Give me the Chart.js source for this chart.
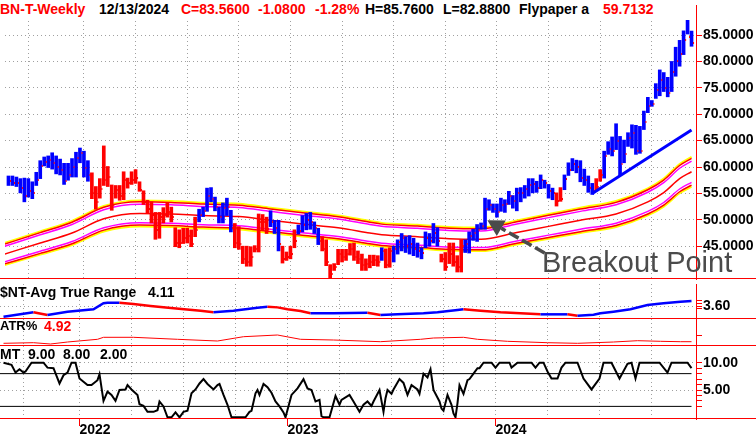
<!DOCTYPE html>
<html>
<head>
<meta charset="utf-8">
<script src="https://cdn.jsdelivr.net/npm/chart.js@4.4.1/dist/chart.umd.min.js"></script>
<style>
  body { margin: 0; background: #fff; width: 756px; height: 439px; overflow: hidden; position: relative;
         font-family: "Liberation Sans", Arial, Helvetica, sans-serif; }
  .pane { position: absolute; left: 0; width: 756px; }
  .t { position: absolute; font-weight: bold; font-size: 14px; line-height: 16px; white-space: nowrap; color: #000; }
  .red { color: #f00; }
</style>
</head>
<body>
<div class="pane" style="top:0;height:284px"><canvas id="cPrice"></canvas></div>
<div class="pane" style="top:284px;height:35px"><canvas id="cAtr"></canvas></div>
<div class="pane" style="top:319px;height:27px"><canvas id="cAtrPct"></canvas></div>
<div class="pane" style="top:346px;height:93px"><canvas id="cMt"></canvas></div>

<div style="position:absolute;left:0;top:0;width:662px;height:19px;background:#fff"></div>
<div class="t red" style="left:0;top:1px">BN-T-Weekly</div>
<div class="t" style="left:99px;top:1px">12/13/2024</div>
<div class="t red" style="left:181px;top:1px">C=83.5600</div>
<div class="t red" style="left:258px;top:1px">-1.0800</div>
<div class="t red" style="left:315px;top:1px">-1.28%</div>
<div class="t" style="left:365px;top:1px">H=85.7600</div>
<div class="t" style="left:443px;top:1px">L=82.8800</div>
<div class="t" style="left:519px;top:1px">Flypaper a</div>
<div class="t red" style="left:603px;top:1px">59.7132</div>

<div class="t" style="left:0;top:284px">$NT-Avg True Range</div>
<div class="t" style="left:148px;top:284px">4.11</div>
<div class="t" style="left:0;top:318px;font-size:13px">ATR%</div>
<div class="t red" style="left:44px;top:318px">4.92</div>
<div class="t" style="left:0;top:346px">MT</div>
<div class="t" style="left:28px;top:346px">9.00</div>
<div class="t" style="left:63px;top:346px">8.00</div>
<div class="t" style="left:100px;top:346px">2.00</div>

<div style="position:absolute;left:542px;top:246px;font-size:29px;line-height:33px;color:#4b4b4b;white-space:nowrap">Breakout Point</div>

<script>
// weekly bars, index 0 = first bar on the left, index 172 = 12/13/2024
var highs = [
  58.3, 58.3, 58.1, 57.8, 57.9, 57.8, 57.2, 59.0, 61.2, 61.9,
  62.1, 62.7, 62.1, 61.5, 60.7, 60.7, 61.6, 62.8, 63.6, 63.0,
  61.2, 58.9, 56.3, 57.8, 64.0, 60.1, 56.6, 56.5, 56.5, 59.1,
  57.9, 59.1, 59.5, 57.2, 55.5, 53.7, 53.4, 51.4, 51.4, 52.3,
  53.2, 52.4, 48.5, 48.1, 48.4, 48.4, 48.1, 50.5, 52.0, 52.4,
  56.0, 56.1, 54.3, 52.4, 53.2, 54.1, 51.8, 49.3, 48.7, 45.0,
  45.0, 44.9, 45.1, 51.1, 51.0, 50.5, 51.7, 49.9, 49.9, 45.0,
  43.9, 45.0, 48.1, 49.0, 50.8, 51.2, 51.4, 49.6, 48.4, 46.8,
  46.2, 41.5, 41.7, 44.4, 44.4, 44.4, 45.5, 45.6, 44.1, 43.5,
  42.6, 43.3, 43.3, 43.2, 44.7, 44.5, 44.7, 45.0, 46.2, 47.4,
  46.8, 47.0, 46.5, 45.6, 44.7, 47.7, 47.4, 49.3, 48.5, 43.5,
  43.8, 45.6, 45.6, 43.2, 46.2, 46.2, 47.7, 48.2, 49.1, 49.4,
  54.1, 53.8, 53.0, 53.0, 54.1, 53.8, 55.4, 54.6, 56.0, 56.1,
  56.5, 57.8, 57.8, 57.3, 58.5, 57.5, 56.7, 56.0, 55.1, 56.1,
  58.5, 60.8, 61.6, 61.3, 61.2, 59.6, 58.3, 56.9, 57.8, 59.5,
  63.0, 64.8, 65.7, 68.2, 65.8, 65.1, 66.5, 68.0, 67.9, 67.7,
  70.6, 73.2, 72.6, 75.8, 78.4, 77.9, 77.0, 80.0, 82.7, 84.0,
  85.8, 87.8, 85.76
];
var lows = [
  56.5, 56.5, 56.3, 55.1, 53.4, 54.3, 54.0, 56.5, 57.8, 60.2,
  59.9, 59.6, 58.7, 58.5, 56.7, 57.5, 58.1, 58.1, 60.8, 58.1,
  57.3, 54.0, 52.0, 54.1, 56.5, 56.3, 51.8, 54.1, 53.7, 53.8,
  56.0, 56.7, 56.9, 55.4, 52.9, 51.2, 49.4, 46.3, 46.5, 49.4,
  50.5, 49.6, 44.9, 44.7, 45.5, 45.6, 44.9, 46.8, 49.6, 50.6,
  51.6, 53.4, 51.7, 49.4, 49.4, 50.8, 47.7, 44.7, 44.4, 41.7,
  41.2, 41.2, 43.9, 43.9, 48.1, 47.4, 48.7, 47.4, 44.1, 41.8,
  42.3, 42.6, 44.7, 47.3, 47.7, 48.1, 48.2, 47.4, 45.3, 44.1,
  41.3, 39.0, 40.4, 41.5, 42.0, 42.3, 43.3, 42.3, 41.7, 40.4,
  40.4, 40.9, 41.3, 41.2, 42.3, 40.9, 41.0, 42.0, 43.5, 44.1,
  43.8, 43.5, 43.2, 42.9, 42.6, 44.7, 45.0, 45.6, 45.0, 42.0,
  40.4, 41.7, 41.2, 40.1, 40.1, 43.8, 43.7, 46.1, 45.9, 48.2,
  48.2, 51.8, 51.4, 50.5, 51.6, 51.4, 52.9, 52.2, 51.7, 53.4,
  54.1, 54.5, 55.1, 55.2, 55.9, 56.0, 54.1, 53.8, 52.6, 53.5,
  55.7, 58.4, 59.3, 58.9, 57.2, 56.5, 55.2, 54.8, 55.5, 57.3,
  57.9, 62.4, 62.1, 63.3, 58.4, 60.8, 63.9, 63.6, 62.4, 62.6,
  67.1, 70.3, 71.5, 73.0, 73.5, 74.3, 73.3, 74.3, 77.2, 79.1,
  81.3, 85.2, 82.88
];
var closes = [
  57.3, 57.0, 56.9, 56.0, 54.5, 55.5, 55.0, 57.5, 60.2, 61.0,
  61.4, 60.8, 60.0, 59.4, 57.4, 58.5, 60.0, 61.8, 62.6, 59.8,
  58.4, 55.0, 53.4, 55.8, 57.5, 58.2, 52.8, 55.6, 54.5, 57.5,
  57.0, 57.6, 58.0, 55.6, 53.3, 52.0, 51.0, 48.0, 50.5, 51.0,
  51.5, 50.5, 45.6, 45.6, 46.5, 47.0, 45.5, 48.0, 51.0, 51.6,
  54.5, 54.0, 52.5, 50.5, 52.2, 52.5, 48.5, 45.6, 45.5, 42.5,
  42.0, 43.0, 44.5, 49.5, 49.5, 48.3, 49.5, 48.5, 45.5, 42.5,
  43.0, 43.5, 46.0, 47.9, 49.0, 50.0, 49.5, 48.5, 46.0, 44.5,
  42.0, 39.8, 41.0, 43.5, 43.0, 43.5, 44.5, 43.0, 42.5, 41.5,
  41.6, 42.0, 42.3, 42.0, 44.0, 41.5, 44.0, 44.5, 45.8, 46.5,
  45.0, 45.5, 44.5, 44.0, 43.8, 46.5, 46.0, 47.5, 46.0, 42.5,
  41.0, 43.5, 42.0, 41.0, 45.0, 45.5, 47.0, 47.5, 48.0, 48.8,
  52.0, 52.8, 52.0, 51.5, 52.8, 53.0, 54.5, 53.5, 55.0, 55.0,
  55.8, 56.5, 56.8, 56.0, 57.5, 57.0, 55.5, 55.0, 53.5, 54.0,
  57.8, 59.5, 60.5, 60.0, 58.0, 57.5, 56.0, 55.5, 56.2, 58.5,
  62.0, 63.5, 63.0, 65.0, 60.5, 62.5, 65.5, 66.5, 63.0, 63.0,
  68.5, 71.5, 72.0, 74.5, 76.5, 75.0, 74.0, 78.0, 80.0, 81.5,
  84.0, 84.64, 83.56
];
// 1 = blue (up) bar, 0 = red (down) bar
var upBar = [
  1, 1, 1, 1, 1, 1, 1, 1, 1, 1, 1, 1, 1, 1, 1, 1, 1, 1, 1, 1,
  1, 0, 0, 0, 0, 0, 0, 0, 0, 0, 0, 0, 0, 0, 0, 0, 0, 0, 0, 0,
  0, 0, 0, 0, 0, 0, 0, 0, 1, 1, 1, 1, 1, 1, 1, 1, 1, 0, 0, 0,
  0, 0, 0, 0, 0, 0, 1, 1, 1, 0, 0, 0, 0, 1, 1, 1, 1, 1, 1, 0,
  0, 0, 0, 0, 0, 0, 0, 0, 0, 0, 0, 0, 0, 0, 1, 0, 0, 1, 1, 1,
  1, 1, 1, 1, 1, 1, 1, 1, 1, 0, 0, 0, 0, 0, 0, 1, 1, 1, 1, 1,
  1, 1, 1, 1, 1, 1, 1, 1, 1, 1, 1, 1, 1, 1, 1, 1, 1, 1, 0, 0,
  1, 1, 1, 1, 1, 1, 1, 1, 0, 0, 1, 1, 1, 1, 1, 1, 1, 1, 1, 1,
  1, 1, 1, 1, 1, 1, 1, 1, 1, 1, 1, 1, 1
];

// moving-average envelope (centre line) and its band widths in percent
var bandIdx = [-1, 8, 16, 24, 33, 41, 49, 58, 66, 74, 83, 91, 94, 103, 111, 119, 128, 136, 144, 153, 161, 165, 169, 172];
var bandMid = [43.5, 45.6, 47.5, 50.2, 51.2, 51.1, 50.8, 50.6, 49.9, 49.2, 48.5, 47.5, 47.15, 46.8, 46.4, 46.3, 47.6, 48.75, 49.9, 51.1, 53.4, 55.15, 57.8, 59.1];
var bandPct = [4.8, 4.3, 3.4];
var bandColors = ['#ffff00', '#ff0000', '#ff00ff'];

// rising trend line
var trendIdx = [147, 172];
var trendVal = [55.0, 67.0];

// annotation arrow: from [index, price] to [index, price]
var arrowFrom = [135, 43.7];
var arrowTo = [120.6, 49.9];

// $NT-Avg True Range
var atrIdx = [0, 7.5, 11, 16, 22.5, 25, 26, 29, 32.5, 36.75, 42.5, 49.25, 52.5, 57.5, 63.5, 66, 68.5, 71, 74.25, 76.75, 82.5, 91, 94.25, 98.5, 105, 108.5, 113.5, 115, 119.25, 124.25, 129.25, 134.25, 141, 143.5, 147.5, 149.25, 152.5, 156.75, 161, 165, 169.25, 172];
var atrVal = [2.51, 2.96, 2.68, 3.02, 3.26, 3.88, 3.94, 3.94, 3.80, 3.60, 3.36, 3.12, 2.96, 3.12, 3.43, 3.53, 3.46, 3.26, 3.09, 2.86, 2.86, 2.92, 2.68, 2.75, 2.86, 2.96, 3.19, 3.26, 3.12, 2.96, 2.86, 2.75, 2.75, 2.61, 2.71, 2.86, 3.02, 3.26, 3.70, 3.87, 4.04, 4.11];

// ATR%
var atrPctIdx = [0, 7.5, 11.75, 16, 23.5, 25, 32.5, 43.5, 53.5, 60, 68.5, 74.25, 82.5, 94.25, 104.25, 107.5, 115, 118.5, 126, 136, 143.5, 152.5, 158.5, 164.25, 169.25, 172];
var atrPctVal = [4.28, 4.52, 4.0, 4.8, 5.88, 6.68, 6.68, 5.88, 5.2, 6.92, 7.6, 5.88, 5.6, 4.92, 5.88, 6.4, 6.68, 5.88, 5.08, 4.52, 4.28, 4.8, 5.32, 5.08, 4.92, 4.92];

// MT oscillator and its levels
var mtIdx = [0, 2, 3, 4, 5, 5.5, 7, 10, 11, 12.5, 14, 15, 16, 17, 18, 19, 20, 21, 22, 23.5, 24, 25, 26, 27, 28, 29, 30.5, 31, 32, 33.5,
  34, 35, 36, 37.5, 38.5, 39, 40, 41, 42, 43, 44, 45, 46, 47, 48, 49, 50, 51, 52.5, 53.5, 54, 55, 56, 57, 60.5, 61.5, 62, 63, 63.5, 64,
  65, 66, 67, 68, 69, 70, 70.5, 71.5, 72, 73.5, 75, 76, 77, 78, 79, 79.5, 80, 81.5, 82, 83, 84, 84.5, 86.5, 87.5, 89, 90, 91, 92, 92.5, 94,
  95, 95.5, 96, 97, 97.5, 99, 100, 101, 102, 103.5, 104, 105, 106, 106.75, 107.5, 109, 109.5, 110, 111, 112, 112.5, 113, 113.5, 114, 115, 116, 116.5, 117.5,
  118.5, 119, 120, 122, 123, 124, 126.5, 127, 128.5, 132, 133, 134, 135, 136, 137, 138.5, 139.5, 140.5, 143.5, 145, 147, 149, 150, 152, 154, 156,
  157, 158, 159, 164, 166, 167, 171, 172];
var mtVal = [10, 9.6, 8.2, 8.8, 8.2, 8.4, 10, 10, 9.1, 9.0, 6.2, 7.7, 8.2, 10, 10, 7.1, 6.5, 5.9, 5.9, 6.8, 7.9, 3.0, 4.7, 4.1, 3.0, 5.0, 5.1, 5.9, 5.1, 4.1,
  2.4, 2.1, 1.0, 1.0, 1.3, 2.9, 2.0, 0, 0, 0.9, 0, 1.0, 1.2, 4.4, 5.1, 6.2, 7.0, 6.1, 5.1, 5.9, 6.1, 4.1, 2.3, 0, 0, 1.0, 1.2, 4.4, 5.0, 4.1,
  6.1, 5.5, 4.5, 2.9, 2.0, 0.9, 0, 2.7, 4.1, 5.3, 7.0, 5.3, 5.0, 2.9, 3.2, 0.2, 0, 0, 1.3, 3.9, 2.3, 3.2, 4.1, 2.9, 1.0, 2.3, 2.9, 2.1, 2.9, 5.0,
  1.0, 3.5, 5.0, 4.3, 5.1, 7.0, 6.3, 4.1, 5.9, 5.1, 4.3, 8.0, 7.3, 8.8, 5.0, 2.9, 1.6, 1.2, 4.1, 2.3, 0.7, 0, 2.6, 5.9, 4.3, 6.8, 7.0, 8.0,
  9.0, 9.0, 10, 10, 9.1, 10, 10, 9.1, 10, 10, 9.1, 10, 10, 8.4, 7.1, 7.1, 9.1, 10, 10, 7.1, 5.1, 7.1, 10, 10, 7.1, 9.8,
  10, 7.1, 10, 10, 8.2, 10, 10, 9.0];
var mtLevels = [8, 2];

// axis ticks
var gridIdx = [5, 19, 32, 45, 58, 71, 84, 97, 110, 123, 136, 149, 162];
var yearIdx = [19, 71, 123];
var yearLabels = ['2022', '2023', '2024'];
var priceTicks = [45, 50, 55, 60, 65, 70, 75, 80, 85];
var atrTicks = [3.3, 3.6, 3.9, 4.2];
var mtTicks = [2, 3, 4, 5, 6, 7, 8, 9, 10];

var RED = '#ff0000', BLUE = '#0000ff', GRID = '#a0a0a0', NONE = 'rgba(0,0,0,0)';
var X_MIN = -0.875, X_MAX = 173.125;

Chart.defaults.font.family = '"Liberation Sans", Arial, Helvetica, sans-serif';
Chart.defaults.font.size = 14;
Chart.defaults.font.weight = 'bold';
Chart.defaults.color = '#000';
Chart.defaults.animation = false;
Chart.defaults.maintainAspectRatio = false;
Chart.defaults.plugins.legend.display = false;
Chart.defaults.plugins.tooltip.enabled = false;
Chart.defaults.elements.point.radius = 0;

function pts(xs, ys) {
  return xs.map(function (x, i) { return { x: x, y: ys[i] }; });
}

function xAxis(showYears) {
  return {
    type: 'linear', min: X_MIN, max: X_MAX, offset: false,
    afterBuildTicks: function (s) { s.ticks = gridIdx.map(function (v) { return { value: v }; }); },
    grid: {
      color: GRID, offset: false, drawTicks: showYears, tickLength: 7,
      tickColor: function (c) { return c.tick && yearIdx.indexOf(c.tick.value) >= 0 ? RED : NONE; }
    },
    border: { display: false, dash: [1, 3] },
    ticks: {
      display: showYears, autoSkip: false, maxRotation: 0, align: 'start', padding: -3,
      font: { size: 14, weight: 'bold', lineHeight: 1 },
      callback: function (v) { var k = yearIdx.indexOf(v); return k < 0 ? '' : yearLabels[k]; }
    },
    afterFit: function (s) { s.height = showYears ? 20 : 0; s.paddingLeft = 0; s.paddingRight = 0; }
  };
}

function yAxis(min, max, ticks, label, gridAt, tickColor) {
  return {
    position: 'right', min: min, max: max,
    afterBuildTicks: function (s) { s.ticks = ticks.map(function (v) { return { value: v }; }); },
    grid: {
      color: function (c) { return c.tick && gridAt(c.tick.value) ? GRID : NONE; },
      tickColor: tickColor, tickLength: 6
    },
    border: { display: true, color: RED, width: 1, dash: [1, 3] },
    ticks: { padding: 1, autoSkip: false, callback: label, font: { size: 14, weight: 'bold' } },
    afterFit: function (s) { s.width = 60; s.paddingTop = 0; s.paddingBottom = 0; }
  };
}

// red separator line under each panel, across the full width
var panelLine = {
  id: 'panelLine',
  afterDraw: function (chart) {
    var ctx = chart.ctx, y = chart.chartArea.bottom - 0.5;
    ctx.save();
    ctx.strokeStyle = RED; ctx.lineWidth = 1;
    ctx.beginPath(); ctx.moveTo(0, y); ctx.lineTo(chart.width, y); ctx.stroke();
    ctx.restore();
  }
};

var breakoutArrow = {
  id: 'breakoutArrow',
  afterDatasetsDraw: function (chart) {
    var ctx = chart.ctx, sx = chart.scales.x, sy = chart.scales.y;
    var x0 = sx.getPixelForValue(arrowFrom[0]), y0 = sy.getPixelForValue(arrowFrom[1]);
    var x1 = sx.getPixelForValue(arrowTo[0]), y1 = sy.getPixelForValue(arrowTo[1]);
    var a = Math.atan2(y1 - y0, x1 - x0);
    var bx = x1 - 16 * Math.cos(a), by = y1 - 16 * Math.sin(a);
    ctx.save();
    ctx.strokeStyle = '#4b4b4b'; ctx.fillStyle = '#4b4b4b';
    ctx.lineWidth = 3.5; ctx.setLineDash([11, 4]);
    ctx.beginPath(); ctx.moveTo(x0, y0); ctx.lineTo(bx, by); ctx.stroke();
    ctx.setLineDash([]);
    ctx.beginPath();
    ctx.moveTo(x1, y1);
    ctx.lineTo(bx + 9 * Math.sin(a), by - 9 * Math.cos(a));
    ctx.lineTo(bx - 9 * Math.sin(a), by + 9 * Math.cos(a));
    ctx.closePath(); ctx.fill();
    ctx.restore();
  }
};

// small red close tick to the right of each bar
var closeMark = document.createElement('canvas');
closeMark.width = 9; closeMark.height = 2;
var cm = closeMark.getContext('2d');
cm.fillStyle = RED; cm.fillRect(6, 0, 1, 2);

var bandSets = [];
bandPct.forEach(function (p, k) {
  [1, -1].forEach(function (sign) {
    bandSets.push({
      type: 'line', order: 5 - k,
      data: pts(bandIdx, bandMid.map(function (m) { return m * (1 + sign * p / 100); })),
      borderColor: bandColors[k], borderWidth: k === 0 ? 2 : 1.5,
      cubicInterpolationMode: 'monotone'
    });
  });
});
bandSets.push({
  type: 'line', order: 3, data: pts(bandIdx, bandMid),
  borderColor: RED, borderWidth: 1.5, cubicInterpolationMode: 'monotone'
});

new Chart(document.getElementById('cPrice'), {
  type: 'line',
  data: {
    datasets: bandSets.concat([
      {
        type: 'bar', order: 2,
        data: highs.map(function (h, i) { return { x: i, y: [lows[i], h] }; }),
        backgroundColor: upBar.map(function (u) { return u ? BLUE : RED; }),
        barThickness: 3, borderWidth: 0
      },
      {
        type: 'line', order: 1, showLine: false,
        data: closes.map(function (c, i) { return { x: i, y: c }; }),
        pointStyle: closeMark, pointRadius: 1
      },
      {
        type: 'line', order: 0, data: pts(trendIdx, trendVal),
        borderColor: BLUE, borderWidth: 3
      }
    ])
  },
  options: {
    layout: { padding: 0 },
    scales: {
      x: xAxis(false),
      y: yAxis(38.78, 90.70, priceTicks, function (v) { return v.toFixed(4); },
               function () { return true; }, RED)
    }
  },
  plugins: [panelLine, breakoutArrow]
});

new Chart(document.getElementById('cAtr'), {
  type: 'line',
  data: {
    datasets: [{
      data: pts(atrIdx, atrVal), borderWidth: 2.5, borderColor: BLUE,
      segment: { borderColor: function (c) { return c.p1.parsed.y >= c.p0.parsed.y ? BLUE : RED; } }
    }]
  },
  options: {
    layout: { padding: 0 },
    scales: {
      x: xAxis(false),
      y: yAxis(2.274, 5.844, atrTicks, function (v) { return v === 3.6 ? '3.60' : ''; },
               function (v) { return v === 3.6; }, RED)
    }
  },
  plugins: [panelLine]
});

new Chart(document.getElementById('cAtrPct'), {
  type: 'line',
  data: { datasets: [{ data: pts(atrPctIdx, atrPctVal), borderWidth: 1, borderColor: RED }] },
  options: {
    layout: { padding: 0 },
    scales: {
      x: xAxis(false),
      y: yAxis(3.2, 14.0, [7.6], function () { return ''; }, function () { return false; }, RED)
    }
  },
  plugins: [panelLine]
});

new Chart(document.getElementById('cMt'), {
  type: 'line',
  data: {
    datasets: mtLevels.map(function (lv) {
      return { data: [{ x: X_MIN, y: lv }, { x: 172, y: lv }], borderColor: '#000', borderWidth: 1 };
    }).concat([{ data: pts(mtIdx, mtVal), borderColor: '#000', borderWidth: 2 }])
  },
  options: {
    layout: { padding: 0 },
    scales: {
      x: xAxis(true),
      y: yAxis(-0.31, 13.06, mtTicks,
               function (v) { return v === 5 || v === 10 ? v.toFixed(2) : ''; },
               function (v) { return v === 5 || v === 10; }, RED)
    }
  },
  plugins: [panelLine]
});
</script>
</body>
</html>
